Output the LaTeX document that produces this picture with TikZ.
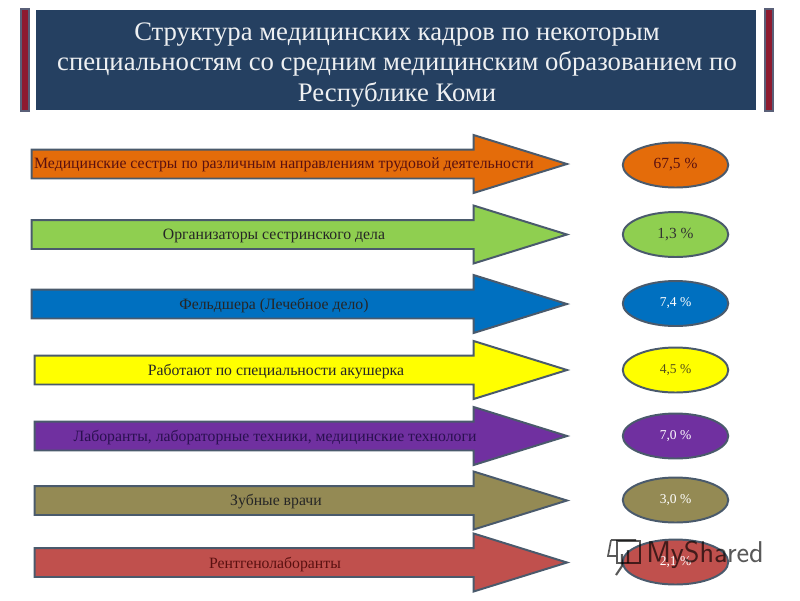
\documentclass[tikz,border=0pt]{standalone}
\usepackage{fontspec}
\setmainfont{Liberation Serif}
\usepackage{tikz}
\usetikzlibrary{shapes.geometric, shapes.arrows, positioning}
\definecolor{titlebg}{HTML}{254061}
\definecolor{barred}{HTML}{8E1B30}
\definecolor{bargray}{HTML}{5A6078}
\definecolor{edgegray}{HTML}{4A5A6C}
\definecolor{orangefill}{HTML}{E46C0A}
\definecolor{greenfill}{HTML}{8FCF50}
\definecolor{bluefill}{HTML}{0070C0}
\definecolor{yellowfill}{HTML}{FFFF00}
\definecolor{purplefill}{HTML}{7030A0}
\definecolor{olivefill}{HTML}{948A54}
\definecolor{redfill}{HTML}{C0504D}
\definecolor{darktext}{HTML}{5A1010}
\definecolor{darkpurple}{HTML}{2A1050}
\definecolor{darkolive}{HTML}{55501A}

\begin{document}
\begin{tikzpicture}[
  x=0.025cm, y=-0.025cm,
  bar/.style={draw=bargray, fill=barred, line width=1.2pt, minimum width=5.7pt, minimum height=72.5pt, inner sep=0pt},
  arrow/.style={single arrow, draw=edgegray, line width=1.4pt, inner xsep=0pt, inner ysep=9.6pt, outer sep=0pt, single arrow head extend=10.3pt, single arrow tip angle=34.5},
  arrowtext/.style={font=\fontsize{11.2}{13}\selectfont, text=black!85},
  badge/.style={ellipse, draw=edgegray, line width=1.4pt, minimum width=75pt, minimum height=32pt, inner sep=0pt, font=\fontsize{9.6}{11}\selectfont}
]

\useasboundingbox (0,0) rectangle (800,600);

% title
\node[fill=titlebg, minimum width=512pt, minimum height=71pt, inner sep=0pt] (titlebox) at (396,60) {};
\node[text=white!92!titlebg, align=center, font=\fontsize{19}{22}\selectfont] (title) at (397,65) {Структура медицинских кадров по некоторым\\специальностям со средним медицинским образованием по\\Республике Коми};
\node[bar] (barleft) at (25,60) {};
\node[bar] (barright) at (769,60) {};

% arrows
\node[arrow, fill=orangefill, minimum height=380.6pt] (nurse) at (276,164) {};
\node[arrow, fill=greenfill, minimum height=380.6pt] (org) at (276,234.5) {};
\node[arrow, fill=bluefill, minimum height=380.6pt] (feld) at (276,304) {};
\node[arrow, fill=yellowfill, minimum height=378.6pt] (midw) at (277.5,370) {};
\node[arrow, fill=purplefill, minimum height=378.6pt] (lab) at (277.5,436) {};
\node[arrow, fill=olivefill, minimum height=378.6pt] (dent) at (277.5,500.5) {};
\node[arrow, fill=redfill, minimum height=378.6pt] (xray) at (277.5,562.5) {};

\node[arrowtext, text=darktext] (nursetext) at (284,164.5) {Медицинские сестры по различным направлениям трудовой деятельности};
\node[arrowtext] (orgtext) at (274,235.5) {Организаторы сестринского дела};
\node[arrowtext] (feldtext) at (274,305.5) {Фельдшера (Лечебное дело)};
\node[arrowtext] (midwtext) at (276,371.5) {Работают по специальности акушерка};
\node[arrowtext, text=darkpurple] (labtext) at (275,437.5) {Лаборанты, лабораторные техники, медицинские технологи};
\node[arrowtext] (denttext) at (276,501.5) {Зубные врачи};
\node[arrowtext, text=darktext] (xraytext) at (275,564.5) {Рентгенолаборанты};

% percent values
\node[badge, fill=orangefill, text=darktext, font=\fontsize{11}{13}\selectfont] (nurseval) at (675.5,165) {67,5 \%};
\node[badge, fill=greenfill, text=black!80, font=\fontsize{11}{13}\selectfont] (orgval) at (675.5,234.5) {1,3 \%};
\node[badge, fill=bluefill, text=white] (feldval) at (675.5,303.5) {7,4 \%};
\node[badge, fill=yellowfill, text=darkolive] (midwval) at (675.5,370) {4,5 \%};
\node[badge, fill=purplefill, text=white] (labval) at (675.5,436) {7,0 \%};
\node[badge, fill=olivefill, text=white] (dentval) at (675.5,500) {3,0 \%};
\node[badge, fill=redfill, text=white] (xrayval) at (675.5,562) {2,1 \%};

% watermark
\draw[black, opacity=0.65, line width=1.2pt] (617,541) rectangle (640,563);
\draw[black, opacity=0.65, line width=1.2pt] (611,540) -- (636,540) (611,540) -- (608,556) -- (616,556);
\draw[black, opacity=0.65, line width=1.5pt] (622,554) -- (622,566) -- (616,575) (628,550) -- (628,563);
\node[font=\sffamily\fontsize{21.4}{24}\selectfont, text=black, opacity=0.65] (mark) at (705,555) {MyShared};

\end{tikzpicture}
\end{document}
